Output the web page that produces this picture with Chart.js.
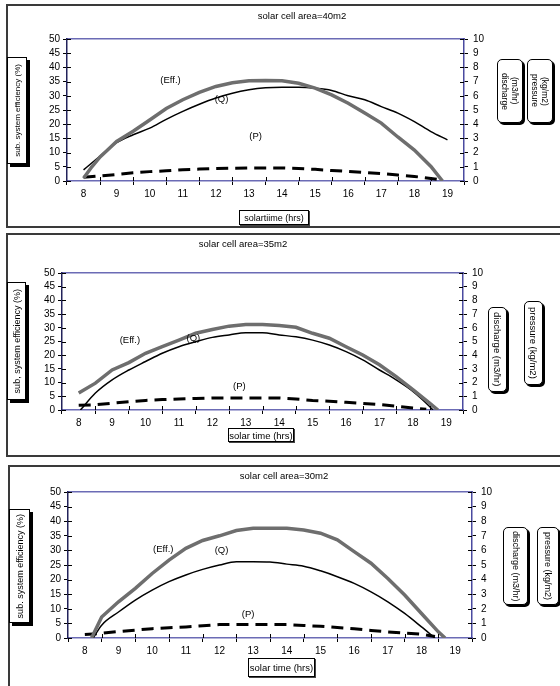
<!DOCTYPE html>
<html>
<head>
<meta charset="utf-8">
<script src="https://cdn.jsdelivr.net/npm/chart.js@4.4.0/dist/chart.umd.min.js"></script>
<style>
  body { margin: 0; width: 560px; height: 686px; overflow: hidden; background: #fff; position: relative;
         font-family: "Liberation Sans", Arial, sans-serif; }
  .panel { position: absolute; border: 2px solid #3a3a3a; box-sizing: border-box; }
  canvas { position: absolute; left: 0; }
  .box { position: absolute; border: 1px solid #000; background: #fff; box-sizing: border-box;
         display: flex; align-items: center; justify-content: center; color: #000; }
  .ytitle { box-shadow: 3px 3px 0 #000; }
  .ytitle span { writing-mode: vertical-rl; transform: rotate(180deg); white-space: nowrap; }
  .rtitle { border-radius: 5px; box-shadow: 2px 2px 0 #000; }
  .rtitle span { writing-mode: vertical-lr; white-space: nowrap; text-align: center; line-height: 1.2; }
  .xtitle { box-shadow: 1px 1px 0 #444; white-space: nowrap; }
  .ctitle { position: absolute; transform: translate(-50%, -50%); white-space: nowrap; font-size: 9.5px; }
</style>
</head>
<body>
<!-- panel frames -->
<div class="panel" style="left:6px;top:4px;width:600px;height:224px"></div>
<div class="panel" style="left:6px;top:233px;width:600px;height:224px"></div>
<div class="panel" style="left:8px;top:465px;width:600px;height:300px"></div>

<canvas id="c40" width="560" height="230" style="top:0px"></canvas>
<canvas id="c35" width="560" height="226" style="top:232px"></canvas>
<canvas id="c30" width="560" height="224" style="top:462px"></canvas>

<!-- panel 1 texts -->
<div class="ctitle" style="left:302px;top:15px">solar cell area=40m2</div>
<div class="box ytitle" style="left:7px;top:57px;width:20px;height:107px;font-size:8px"><span>sub. system efficiency (%)</span></div>
<div class="box rtitle" style="left:497px;top:59px;width:26px;height:64px;font-size:8.5px"><span>discharge<br>(m3/hr)</span></div>
<div class="box rtitle" style="left:527px;top:59px;width:26px;height:64px;font-size:8.5px"><span>pressure<br>(kg/m2)</span></div>
<div class="box xtitle" style="left:239px;top:210px;width:70px;height:15px;font-size:9px">solartiime (hrs)</div>

<!-- panel 2 texts -->
<div class="ctitle" style="left:243px;top:243px">solar cell area=35m2</div>
<div class="box ytitle" style="left:7px;top:282px;width:19px;height:118px;font-size:9px"><span>sub, system efficiency (%)</span></div>
<div class="box rtitle" style="left:488px;top:307px;width:19px;height:85px;font-size:9.5px"><span>discharge (m3/hr)</span></div>
<div class="box rtitle" style="left:524px;top:301px;width:19px;height:84px;font-size:9.5px"><span>pressure (kg/m2)</span></div>
<div class="box xtitle" style="left:228px;top:428px;width:66px;height:14px;font-size:9.5px">solar time (hrs)</div>

<!-- panel 3 texts -->
<div class="ctitle" style="left:284px;top:475px">solar cell area=30m2</div>
<div class="box ytitle" style="left:9px;top:509px;width:21px;height:114px;font-size:9px"><span>sub. system efficiency (%)</span></div>
<div class="box rtitle" style="left:503px;top:527px;width:25px;height:78px;font-size:9px"><span>discharge (m3/hr)</span></div>
<div class="box rtitle" style="left:537px;top:527px;width:22px;height:78px;font-size:9px"><span>pressure (kg/m2)</span></div>
<div class="box xtitle" style="left:248px;top:658px;width:67px;height:19px;font-size:9.5px">solar time (hrs)</div>

<script>
// ---- data ----
const hourTicks = [8, 9, 10, 11, 12, 13, 14, 15, 16, 17, 18, 19];
const noteTexts = ['(Eff.)', '(Q)', '(P)'];

// solar cell area = 40 m2
const eff40Hours = [8, 8.25, 8.5, 8.75, 9, 9.5, 10, 10.5, 11, 11.5, 12, 12.5, 13, 13.5, 14, 14.5, 15, 15.5, 16, 16.5, 17, 17.5, 18, 18.5, 18.85];
const eff40 = [1, 5, 8.5, 11.2, 13.9, 17.5, 21.5, 25.5, 28.6, 31.2, 33.3, 34.6, 35.3, 35.4, 35.3, 34.4, 32.7, 30.3, 27.4, 23.9, 20.4, 15.5, 10.9, 5.1, 0];
const q40Hours = [8, 8.5, 9, 9.5, 10, 10.5, 11, 11.5, 12, 12.5, 13, 13.5, 14, 14.5, 15, 15.5, 16, 16.5, 17, 17.5, 18, 18.5, 19];
const q40 = [0.78, 1.76, 2.7, 3.26, 3.72, 4.34, 4.9, 5.4, 5.84, 6.18, 6.42, 6.56, 6.6, 6.6, 6.54, 6.38, 6.0, 5.72, 5.24, 4.78, 4.18, 3.48, 2.9];
const p40Hours = [8, 8.5, 9, 9.5, 10, 10.5, 11, 11.5, 12, 12.5, 13, 13.5, 14, 14.5, 15, 15.5, 16, 16.5, 17, 17.5, 18, 18.5, 18.85];
const p40 = [0.26, 0.36, 0.46, 0.58, 0.66, 0.72, 0.8, 0.84, 0.88, 0.9, 0.92, 0.92, 0.92, 0.88, 0.82, 0.74, 0.68, 0.6, 0.52, 0.42, 0.32, 0.18, 0.06];
const note40Hours = [10.63, 12.17, 13.2];
const note40Values = [35.4, 28.6, 15.6];

// solar cell area = 35 m2
const eff35Hours = [8, 8.5, 9, 9.5, 10, 10.5, 11, 11.5, 12, 12.5, 13, 13.5, 14, 14.5, 15, 15.5, 16, 16.5, 17, 17.5, 18, 18.5, 18.75];
const eff35 = [6.2, 9.8, 14.6, 17.3, 20.7, 23.1, 25.5, 28, 29.4, 30.6, 31.2, 31.2, 30.8, 30.2, 28, 26.2, 23.1, 20.1, 16.5, 12.2, 7.4, 2.5, 0];
const q35Hours = [8.05, 8.5, 9, 9.5, 10, 10.5, 11, 11.5, 12, 12.5, 13, 13.5, 14, 14.5, 15, 15.5, 16, 16.5, 17, 17.5, 18, 18.5, 18.6];
const q35 = [0, 1.24, 2.2, 2.92, 3.54, 4.14, 4.62, 4.98, 5.3, 5.48, 5.64, 5.64, 5.48, 5.34, 5.1, 4.74, 4.26, 3.66, 2.92, 2.2, 1.36, 0.26, 0];
const p35Hours = [8, 8.5, 9, 9.5, 10, 10.5, 11, 11.5, 12, 12.5, 13, 13.5, 14, 14.5, 15, 15.5, 16, 16.5, 17, 17.5, 18, 18.4];
const p35 = [0.34, 0.38, 0.5, 0.6, 0.7, 0.76, 0.8, 0.84, 0.88, 0.88, 0.88, 0.88, 0.88, 0.8, 0.7, 0.64, 0.56, 0.48, 0.4, 0.28, 0.14, 0.06];
const note35Hours = [9.53, 11.43, 12.81];
const note35Values = [25.5, 26.2, 8.8];

// solar cell area = 30 m2
const eff30Hours = [8.2, 8.5, 9, 9.5, 10, 10.5, 11, 11.5, 12, 12.5, 13, 13.5, 14, 14.5, 15, 15.5, 16, 16.5, 17, 17.5, 18, 18.5, 18.7];
const eff30 = [0, 7.2, 12.4, 17, 22.1, 26.7, 30.7, 33.4, 35, 36.8, 37.6, 37.6, 37.6, 37, 35.9, 33.6, 29.6, 25.6, 20.4, 14.7, 8.4, 2.1, 0];
const q30Hours = [8.25, 8.5, 9, 9.5, 10, 10.5, 11, 11.5, 12, 12.5, 13, 13.5, 14, 14.5, 15, 15.5, 16, 16.5, 17, 17.5, 18, 18.4];
const q30 = [0, 0.88, 1.78, 2.6, 3.28, 3.86, 4.32, 4.7, 5.0, 5.22, 5.22, 5.2, 5.06, 4.92, 4.6, 4.2, 3.74, 3.16, 2.48, 1.68, 0.76, 0];
const p30Hours = [8, 8.5, 9, 9.5, 10, 10.5, 11, 11.5, 12, 12.5, 13, 13.5, 14, 14.5, 15, 15.5, 16, 16.5, 17, 17.5, 18, 18.4];
const p30 = [0.24, 0.32, 0.44, 0.54, 0.64, 0.7, 0.76, 0.84, 0.92, 0.92, 0.92, 0.92, 0.92, 0.86, 0.8, 0.72, 0.64, 0.52, 0.42, 0.34, 0.26, 0.1];
const note30Hours = [10.33, 12.06, 12.85];
const note30Values = [30.2, 29.9, 8.1];

// ---- drawing ----
const FONT = '"Liberation Sans", Arial, sans-serif';
const pts = (xs, ys) => xs.map((x, i) => ({ x: x, y: ys[i] }));

// writes the (Eff.) (Q) (P) tags at data positions
const notePlugin = {
  id: 'notes',
  afterDatasetsDraw(chart, args, opts) {
    const ctx = chart.ctx;
    ctx.save();
    ctx.font = '9.5px ' + FONT;
    ctx.fillStyle = '#000';
    ctx.textAlign = 'center';
    ctx.textBaseline = 'middle';
    opts.hours.forEach((h, i) => {
      ctx.fillText(noteTexts[i], chart.scales.x.getPixelForValue(h), chart.scales.y.getPixelForValue(opts.values[i]));
    });
    ctx.restore();
  }
};

// excel style tick marks cross the axis: add the inner half
const innerTicks = {
  id: 'innerTicks',
  afterDraw(chart) {
    const { ctx, chartArea: a, scales } = chart;
    ctx.save();
    ctx.strokeStyle = '#000';
    ctx.lineWidth = 1;
    ctx.beginPath();
    scales.y.ticks.forEach(t => {
      const py = Math.round(scales.y.getPixelForValue(t.value)) + 0.5;
      ctx.moveTo(a.left, py); ctx.lineTo(a.left + 4, py);
    });
    scales.y1.ticks.forEach(t => {
      const py = Math.round(scales.y1.getPixelForValue(t.value)) + 0.5;
      ctx.moveTo(a.right - 4, py); ctx.lineTo(a.right, py);
    });
    scales.x.ticks.forEach(t => {
      const px = Math.round(scales.x.getPixelForValue(t.value + 0.5)) + 0.5;
      if (px < a.right - 1) { ctx.moveTo(px, a.bottom); ctx.lineTo(px, a.bottom - 4); }
    });
    ctx.stroke();
    ctx.restore();
  }
};

function makeChart(id, pad, eff, q, p, notes) {
  new Chart(document.getElementById(id), {
    type: 'line',
    data: {
      datasets: [
        { data: eff, yAxisID: 'y', borderColor: '#6e6e6e', borderWidth: 3.5, pointRadius: 0, tension: 0 },
        { data: q, yAxisID: 'y1', borderColor: '#000', borderWidth: 1.5, pointRadius: 0, cubicInterpolationMode: 'monotone' },
        { data: p, yAxisID: 'y1', borderColor: '#000', borderWidth: 3, pointRadius: 0, borderDash: [12, 7] }
      ]
    },
    options: {
      responsive: false,
      animation: false,
      devicePixelRatio: 1,
      layout: { padding: pad },
      plugins: { legend: { display: false }, tooltip: { enabled: false }, notes: notes },
      scales: {
        x: {
          type: 'linear', min: 7.5, max: 19.5,
          afterBuildTicks: s => { s.ticks = hourTicks.map(v => ({ value: v })); },
          afterFit: s => { s.height = 20; },
          grid: { offset: true, drawOnChartArea: false, tickLength: 4, color: '#000' },
          border: { color: '#6b6bb5', width: 1.5 },
          ticks: { color: '#000', font: { size: 10, family: FONT }, padding: 3, maxRotation: 0, autoSkip: false }
        },
        xTop: {
          type: 'linear', position: 'top', min: 7.5, max: 19.5,
          afterFit: s => { s.height = 0; },
          grid: { drawOnChartArea: false, drawTicks: false },
          border: { color: '#6b6bb5', width: 1.5 },
          ticks: { display: false }
        },
        y: {
          position: 'left', min: 0, max: 50,
          afterFit: s => { s.width = 30; },
          grid: { drawOnChartArea: false, tickLength: 4, color: '#000' },
          border: { color: '#22225a', width: 1.5 },
          ticks: { stepSize: 5, autoSkip: false, color: '#000', font: { size: 10, family: FONT }, padding: 3 }
        },
        y1: {
          position: 'right', min: 0, max: 10,
          afterFit: s => { s.width = 25; },
          grid: { drawOnChartArea: false, tickLength: 4, color: '#000' },
          border: { color: '#4a4aa0', width: 1.5 },
          ticks: { stepSize: 1, autoSkip: false, color: '#000', font: { size: 10, family: FONT }, padding: 5 }
        }
      }
    },
    plugins: [notePlugin, innerTicks]
  });
}

makeChart('c40', { left: 37, right: 71, top: 39, bottom: 29 },
  pts(eff40Hours, eff40), pts(q40Hours, q40), pts(p40Hours, p40),
  { hours: note40Hours, values: note40Values });
makeChart('c35', { left: 32, right: 72, top: 41, bottom: 28 },
  pts(eff35Hours, eff35), pts(q35Hours, q35), pts(p35Hours, p35),
  { hours: note35Hours, values: note35Values });
makeChart('c30', { left: 38, right: 63, top: 30, bottom: 28 },
  pts(eff30Hours, eff30), pts(q30Hours, q30), pts(p30Hours, p30),
  { hours: note30Hours, values: note30Values });
</script>
</body>
</html>
